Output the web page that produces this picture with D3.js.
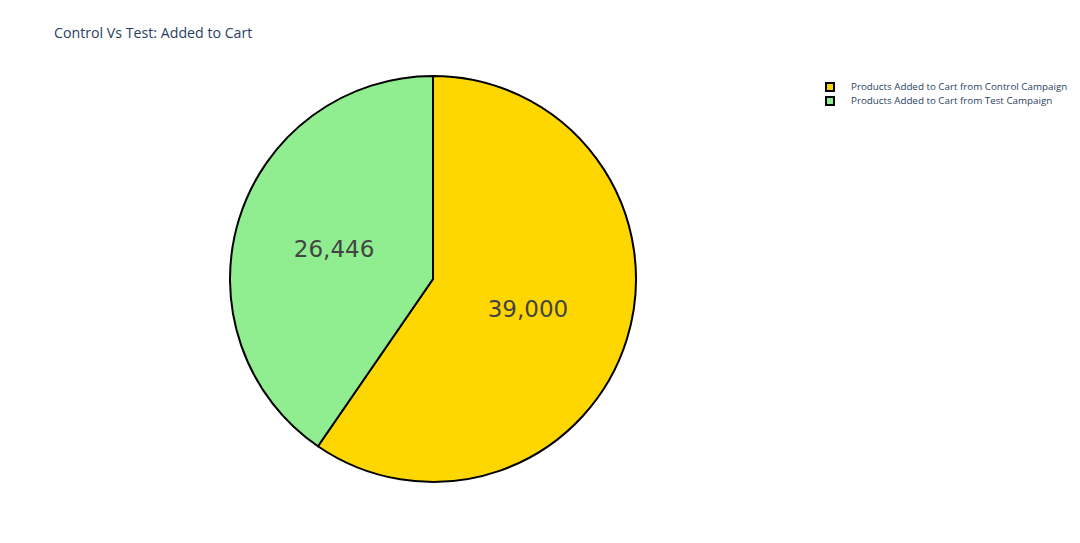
<!DOCTYPE html>
<html>
<head>
<meta charset="utf-8">
<script src="https://cdn.jsdelivr.net/npm/d3@7"></script>
<style>
  body { margin: 0; background: #fff; }
  text { font-family: "Open Sans", sans-serif; }
</style>
</head>
<body>
<div id="vizcontainer"></div>
<script>
const width = 1080,
  height = 543;

// slice data, in plotly order (clockwise from 12 o'clock)
const labels = ['Products Added to Cart from Control Campaign', 'Products Added to Cart from Test Campaign'];
const values = [39000, 26446];
const colors = ['gold', 'lightgreen'];

const cx = 433, cy = 279, radius = 203;

let viz = d3.select('#vizcontainer')
  .append('svg')
  .attr('width', width)
  .attr('height', height);

viz.append('text')
  .attr('x', 54)
  .attr('y', 38)
  .style('font-size', '14.2px')
  .style('fill', '#2a3f5f')
  .text('Control Vs Test: Added to Cart');

const pie = d3.pie().sort(null).value(d => d)(values);
const arc = d3.arc().innerRadius(0).outerRadius(radius);

const g = viz.append('g').attr('transform', `translate(${cx},${cy})`);

g.selectAll('path')
  .data(pie)
  .join('path')
  .attr('d', arc)
  .attr('fill', (d, i) => colors[i])
  .attr('stroke', '#000')
  .attr('stroke-width', 2)
  .attr('stroke-linejoin', 'round');

const fmt = d3.format(',');
g.selectAll('.lbl')
  .data(pie)
  .join('text')
  .attr('class', 'lbl')
  .attr('transform', d => {
    const [x, y] = arc.centroid(d);
    return `translate(${x - 2},${y})`;
  })
  .attr('text-anchor', 'middle')
  .attr('dy', '0.35em')
  .style('font-family', '"DejaVu Sans", sans-serif')
  .style('font-size', '23px')
  .style('fill', '#444')
  .text(d => fmt(d.value));

// legend
const leg = viz.append('g').attr('transform', 'translate(830,87)');
const item = leg.selectAll('g')
  .data(labels)
  .join('g')
  .attr('transform', (d, i) => `translate(0,${i * 14})`);

item.append('rect')
  .attr('x', -4).attr('y', -4)
  .attr('width', 8).attr('height', 8)
  .attr('fill', (d, i) => colors[i])
  .attr('stroke', '#000')
  .attr('stroke-width', 2);

item.append('text')
  .attr('x', 21)
  .attr('dy', '0.35em')
  .style('font-size', '9.8px')
  .style('fill', '#2a3f5f')
  .text(d => d);
</script>
</body>
</html>
